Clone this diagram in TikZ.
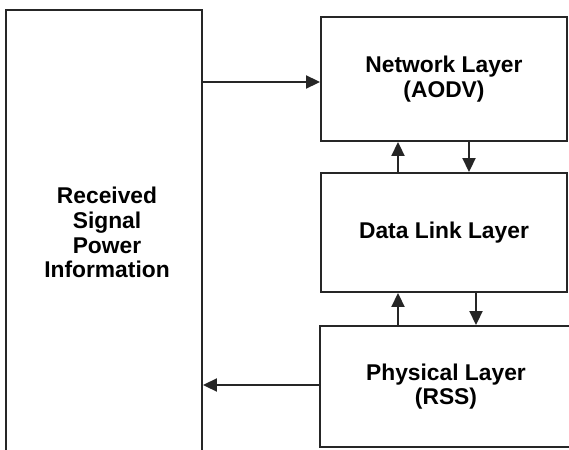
\documentclass[tikz,border=0pt]{standalone}
\usepackage{fontspec}
\setmainfont{Liberation Sans}
\usetikzlibrary{arrows.meta,calc}
\begin{document}
\begin{tikzpicture}[x=1pt,y=-1pt,
  box/.style={draw=black!85,line width=1.9pt,rectangle,inner sep=0pt,align=center,
    font=\fontsize{22.8}{24.7}\selectfont\bfseries, text=black},
  arr/.style={draw=black!85,line width=1.9pt,-{Triangle[length=14pt,width=13pt]}}]
\useasboundingbox (0,0) rectangle (569,449);
\clip (0,0) rectangle (569,449);
\fill[white] (0,0) rectangle (569,449);
\node[box,minimum width=196pt,minimum height=445pt] (left) at (104,232.5)
  {\hspace*{6pt}Received\\\hspace*{6pt}Signal\\\hspace*{6pt}Power\\\hspace*{6pt}Information};
\node[box,minimum width=246pt,minimum height=124pt] (net) at (444,79) {Network Layer\\(AODV)};
\node[box,minimum width=246pt,minimum height=119pt] (dll) at (444,232.5) {Data Link Layer};
\node[box,minimum width=252pt,minimum height=121pt] (phy) at (446,386.5) {Physical Layer\\(RSS)};
\coordinate (a1) at ([yshift=-3pt]net.west);
\coordinate (a6) at ([yshift=1.5pt]phy.west);
\draw[arr] (left.east |- a1) -- (a1);
\draw[arr] ([xshift=-46pt]dll.north) -- ([xshift=-46pt]net.south);
\draw[arr] ([xshift=25pt]net.south) -- ([xshift=25pt]dll.north);
\draw[arr] ([xshift=-48pt]phy.north) -- ([xshift=-46pt]dll.south);
\draw[arr] ([xshift=32pt]dll.south) -- ([xshift=30pt]phy.north);
\draw[arr] (a6) -- (left.east |- a6);
\end{tikzpicture}
\end{document}
